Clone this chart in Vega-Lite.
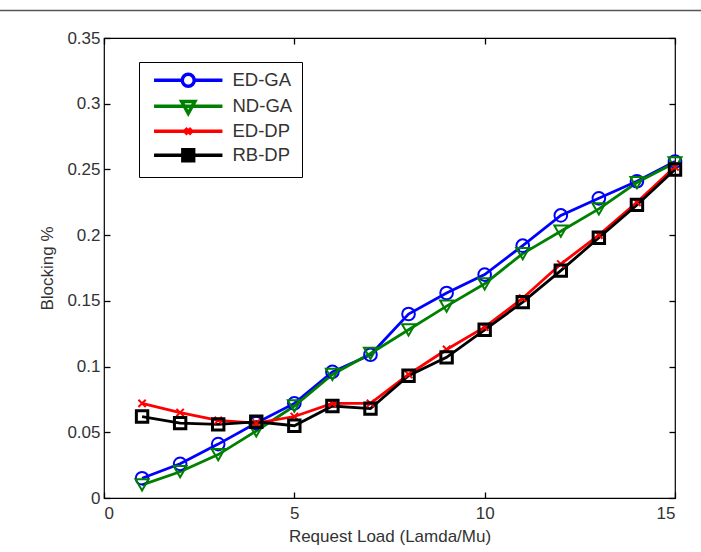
{
  "$schema": "https://vega.github.io/schema/vega-lite/v6.json",
  "width": 571,
  "height": 460,
  "autosize": {"type": "none"},
  "padding": {"left": 104, "top": 38, "right": 26, "bottom": 54},
  "background": "white",
  "config": {
    "font": "Liberation Sans",
    "view": {"stroke": "black", "strokeWidth": 1.2},
    "axis": {"labelFont": "Liberation Sans", "titleFont": "Liberation Sans", "labelFontSize": 17, "titleFontSize": 17, "titleFontWeight": "normal", "labelColor": "#333", "titleColor": "#333", "domainColor": "black", "ticks": true, "tickColor": "black", "tickWidth": 1.3, "grid": false}
  },
  "data": {"values": [
    {"load": 1, "series": "ED-GA", "blocking": 0.015},
    {"load": 2, "series": "ED-GA", "blocking": 0.026},
    {"load": 3, "series": "ED-GA", "blocking": 0.041},
    {"load": 4, "series": "ED-GA", "blocking": 0.057},
    {"load": 5, "series": "ED-GA", "blocking": 0.072},
    {"load": 6, "series": "ED-GA", "blocking": 0.096},
    {"load": 7, "series": "ED-GA", "blocking": 0.109},
    {"load": 8, "series": "ED-GA", "blocking": 0.140},
    {"load": 9, "series": "ED-GA", "blocking": 0.156},
    {"load": 10, "series": "ED-GA", "blocking": 0.170},
    {"load": 11, "series": "ED-GA", "blocking": 0.192},
    {"load": 12, "series": "ED-GA", "blocking": 0.215},
    {"load": 13, "series": "ED-GA", "blocking": 0.228},
    {"load": 14, "series": "ED-GA", "blocking": 0.241},
    {"load": 15, "series": "ED-GA", "blocking": 0.256},
    {"load": 1, "series": "ND-GA", "blocking": 0.010},
    {"load": 2, "series": "ND-GA", "blocking": 0.020},
    {"load": 3, "series": "ND-GA", "blocking": 0.033},
    {"load": 4, "series": "ND-GA", "blocking": 0.051},
    {"load": 5, "series": "ND-GA", "blocking": 0.070},
    {"load": 6, "series": "ND-GA", "blocking": 0.094},
    {"load": 7, "series": "ND-GA", "blocking": 0.110},
    {"load": 8, "series": "ND-GA", "blocking": 0.128},
    {"load": 9, "series": "ND-GA", "blocking": 0.146},
    {"load": 10, "series": "ND-GA", "blocking": 0.163},
    {"load": 11, "series": "ND-GA", "blocking": 0.186},
    {"load": 12, "series": "ND-GA", "blocking": 0.203},
    {"load": 13, "series": "ND-GA", "blocking": 0.220},
    {"load": 14, "series": "ND-GA", "blocking": 0.240},
    {"load": 15, "series": "ND-GA", "blocking": 0.255},
    {"load": 1, "series": "ED-DP", "blocking": 0.072},
    {"load": 2, "series": "ED-DP", "blocking": 0.065},
    {"load": 3, "series": "ED-DP", "blocking": 0.059},
    {"load": 4, "series": "ED-DP", "blocking": 0.057},
    {"load": 5, "series": "ED-DP", "blocking": 0.062},
    {"load": 6, "series": "ED-DP", "blocking": 0.072},
    {"load": 7, "series": "ED-DP", "blocking": 0.072},
    {"load": 8, "series": "ED-DP", "blocking": 0.094},
    {"load": 9, "series": "ED-DP", "blocking": 0.113},
    {"load": 10, "series": "ED-DP", "blocking": 0.130},
    {"load": 11, "series": "ED-DP", "blocking": 0.152},
    {"load": 12, "series": "ED-DP", "blocking": 0.178},
    {"load": 13, "series": "ED-DP", "blocking": 0.200},
    {"load": 14, "series": "ED-DP", "blocking": 0.225},
    {"load": 15, "series": "ED-DP", "blocking": 0.252},
    {"load": 1, "series": "RB-DP", "blocking": 0.062},
    {"load": 2, "series": "RB-DP", "blocking": 0.057},
    {"load": 3, "series": "RB-DP", "blocking": 0.056},
    {"load": 4, "series": "RB-DP", "blocking": 0.058},
    {"load": 5, "series": "RB-DP", "blocking": 0.055},
    {"load": 6, "series": "RB-DP", "blocking": 0.070},
    {"load": 7, "series": "RB-DP", "blocking": 0.068},
    {"load": 8, "series": "RB-DP", "blocking": 0.093},
    {"load": 9, "series": "RB-DP", "blocking": 0.107},
    {"load": 10, "series": "RB-DP", "blocking": 0.128},
    {"load": 11, "series": "RB-DP", "blocking": 0.149},
    {"load": 12, "series": "RB-DP", "blocking": 0.173},
    {"load": 13, "series": "RB-DP", "blocking": 0.198},
    {"load": 14, "series": "RB-DP", "blocking": 0.223},
    {"load": 15, "series": "RB-DP", "blocking": 0.250}
  ]},
  "resolve": {"axis": {"x": "independent", "y": "independent"}},
  "layer": [
    {
      "mark": {"type": "line", "strokeWidth": 2.8},
      "encoding": {
        "x": {"field": "load", "type": "quantitative", "scale": {"domain": [0, 15], "nice": false}, "axis": {"orient": "bottom", "values": [0, 5, 10, 15], "offset": -6, "tickSize": 6, "labelPadding": 7, "title": "Request Load (Lamda/Mu)", "titlePadding": 7, "domain": false}},
        "y": {"field": "blocking", "type": "quantitative", "scale": {"domain": [0, 0.35], "nice": false}, "axis": {"orient": "left", "values": [0, 0.05, 0.1, 0.15, 0.2, 0.25, 0.3, 0.35], "format": "~g", "offset": -6, "tickSize": 6, "labelPadding": 4, "title": "Blocking %", "titlePadding": 10, "domain": false}},
        "color": {"field": "series", "type": "nominal", "scale": {"domain": ["ED-GA", "ND-GA", "ED-DP", "RB-DP"], "range": ["#0000ff", "#008000", "#ff0000", "#000000"]}},
        "order": {"field": "series"}
      }
    },
    {
      "transform": [{"filter": "datum.series === 'ED-GA'"}],
      "mark": {"type": "point", "shape": "circle", "filled": false, "strokeWidth": 2, "size": 160, "opacity": 1},
      "encoding": {
        "x": {"field": "load", "type": "quantitative", "axis": {"orient": "top", "values": [0, 5, 10, 15], "offset": -6, "tickSize": 6, "labels": false, "title": null, "domain": false}},
        "y": {"field": "blocking", "type": "quantitative", "axis": {"orient": "right", "values": [0, 0.05, 0.1, 0.15, 0.2, 0.25, 0.3, 0.35], "offset": -6, "tickSize": 6, "labels": false, "title": null, "domain": false}},
        "color": {"field": "series", "type": "nominal"}
      }
    },
    {
      "transform": [{"filter": "datum.series === 'ND-GA'"}],
      "mark": {"type": "point", "shape": "triangle-down", "filled": false, "strokeWidth": 2, "size": 170, "opacity": 1},
      "encoding": {
        "x": {"field": "load", "type": "quantitative", "axis": null},
        "y": {"field": "blocking", "type": "quantitative", "axis": null},
        "color": {"field": "series", "type": "nominal"}
      }
    },
    {
      "transform": [{"filter": "datum.series === 'ED-DP'"}],
      "mark": {"type": "point", "shape": "M-0.6,-0.6L0.6,0.6M-0.6,0.6L0.6,-0.6", "filled": false, "strokeWidth": 2, "size": 150, "opacity": 1},
      "encoding": {
        "x": {"field": "load", "type": "quantitative", "axis": null},
        "y": {"field": "blocking", "type": "quantitative", "axis": null},
        "color": {"field": "series", "type": "nominal"}
      }
    },
    {
      "transform": [{"filter": "datum.series === 'RB-DP'"}],
      "mark": {"type": "point", "shape": "square", "filled": false, "strokeWidth": 3, "size": 130, "opacity": 1},
      "encoding": {
        "x": {"field": "load", "type": "quantitative", "axis": null},
        "y": {"field": "blocking", "type": "quantitative", "axis": null},
        "color": {"field": "series", "type": "nominal"}
      }
    },
    {
      "transform": [{"filter": "false"}],
      "mark": {"type": "point", "filled": false, "strokeWidth": 3.5, "size": 144, "opacity": 1},
      "encoding": {
        "x": {"field": "load", "type": "quantitative", "axis": null},
        "y": {"field": "blocking", "type": "quantitative", "axis": null},
        "color": {"field": "series", "type": "nominal",
          "legend": {"orient": "none", "legendX": 35, "legendY": 24, "title": null, "strokeColor": "black", "fillColor": "white", "padding": 9, "symbolSize": 144, "symbolStrokeWidth": 3.5, "symbolOffset": 31, "labelOffset": 35, "labelFontSize": 18.5, "labelFont": "Liberation Sans", "labelColor": "#333", "rowPadding": 0}},
        "shape": {"field": "series", "type": "nominal",
          "scale": {"domain": ["ED-GA", "ND-GA", "ED-DP", "RB-DP"], "range": ["M-5.7,0H-1M1,0H5.7M1,0A1,1 0 1,1 -1,0A1,1 0 1,1 1,0", "M-5.7,0H5.7M-1.1,-0.8L1.1,-0.8L0,1.2Z", "M-5.7,0H5.7M-0.5,-0.5L0.5,0.5M-0.5,0.5L0.5,-0.5", "M-5.7,0H5.7M-0.9,-0.9H0.9V0.9H-0.9ZM-0.45,-0.9V0.9M0,-0.9V0.9M0.45,-0.9V0.9"]},
          "legend": {"orient": "none", "legendX": 35, "legendY": 24, "title": null, "strokeColor": "black", "fillColor": "white", "padding": 9, "symbolSize": 144, "symbolStrokeWidth": 3.5, "symbolOffset": 31, "labelOffset": 35, "labelFontSize": 18.5, "labelFont": "Liberation Sans", "labelColor": "#333", "rowPadding": 0}}
      }
    },
    {
      "data": {"values": [{"x1": -2.75, "x2": 15.7, "y": 0.371}]},
      "mark": {"type": "rule", "color": "#555", "strokeWidth": 1.5},
      "encoding": {
        "x": {"field": "x1", "type": "quantitative", "axis": null},
        "x2": {"field": "x2"},
        "y": {"field": "y", "type": "quantitative", "axis": null}
      }
    }
  ]
}
